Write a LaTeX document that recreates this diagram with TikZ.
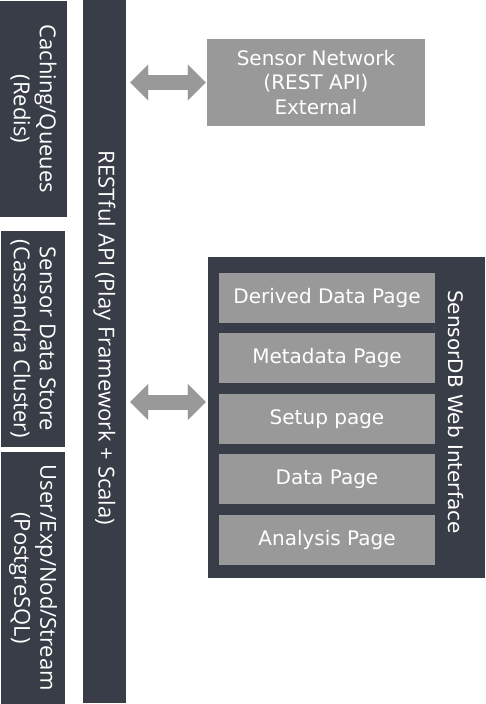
\documentclass[tikz,border=0pt]{standalone}
\usepackage{fontspec}
\setmainfont{DejaVu Sans}
\newfontfamily\tierfont{Open Sans}
\usetikzlibrary{positioning, arrows.meta}
\definecolor{slate}{HTML}{383D47}
\definecolor{midgray}{HTML}{999999}

\begin{document}
\begin{tikzpicture}[
         x=1pt, y=-1pt,
         tier/.style={fill=slate, text=white, inner sep=0pt, align=center, rotate=-90,
                      font=\tierfont\fontsize{22}{26}\selectfont},
         panel/.style={fill=midgray, text=white, inner sep=0pt, align=center,
                       font=\fontsize{20}{24.5}\selectfont},
         page/.style={panel, minimum width=216pt, minimum height=50pt},
         link/.style={midgray, line width=15pt,
                      {Triangle[length=18pt,width=36pt,line width=0.1pt]}-{Triangle[length=18pt,width=36pt,line width=0.1pt]}}
      ]
         \useasboundingbox (0,0) rectangle (485,704);

         % Storage tiers on the left
         \node[tier, minimum width=216pt, minimum height=67pt] (cache) at (33.5,109) {Caching/Queues\\(Redis)};
         \node[tier, minimum width=216pt, minimum height=64pt] (store) at (33,339) {Sensor Data Store\\(Cassandra Cluster)};
         \node[tier, minimum width=252pt, minimum height=64pt] (user) at (33,578) {User/Exp/Nod/Stream\\(PostgreSQL)};

         % API bar
         \node[tier, minimum width=703pt, minimum height=43pt] (api) at (104.5,351.5) {};
         \node[rotate=-90, text=white, font=\tierfont\fontsize{22}{26}\selectfont] (apilbl) at (104.5,338) {RESTful API (Play Framework + Scala)};

         % External sensor network
         \node[panel, minimum width=218pt, minimum height=87pt] (net) at (316,82.5) {Sensor Network\\(REST API)\\External};

         % Web interface with its pages
         \node[fill=slate, minimum width=277pt, minimum height=321pt, inner sep=0pt] (web) at (346.5,417.5) {};
         \node[rotate=-90, text=white, font=\fontsize{20}{24.5}\selectfont] (weblbl) at (456,412) {SensorDB Web Interface};
         \node[page] (derived) at (327,298) {Derived Data Page};
         \node[page, below=10pt of derived] (meta) {Metadata Page};
         \node[page, below=10pt of meta] (setup) {Setup page};
         \node[page, below=10pt of setup] (data) {Data Page};
         \node[page, below=10pt of data] (analysis) {Analysis Page};

         % Arrows between API and the right side (api is turned, its north faces right)
         \coordinate (webport) at ([yshift=15.5pt]web.west);
         \draw[link, shorten <=4pt, shorten >=1pt] (net.west -| api.north) -- (net.west);
         \draw[link, shorten <=4pt, shorten >=2pt] (webport -| api.north) -- (webport);
      \end{tikzpicture}
\end{document}
